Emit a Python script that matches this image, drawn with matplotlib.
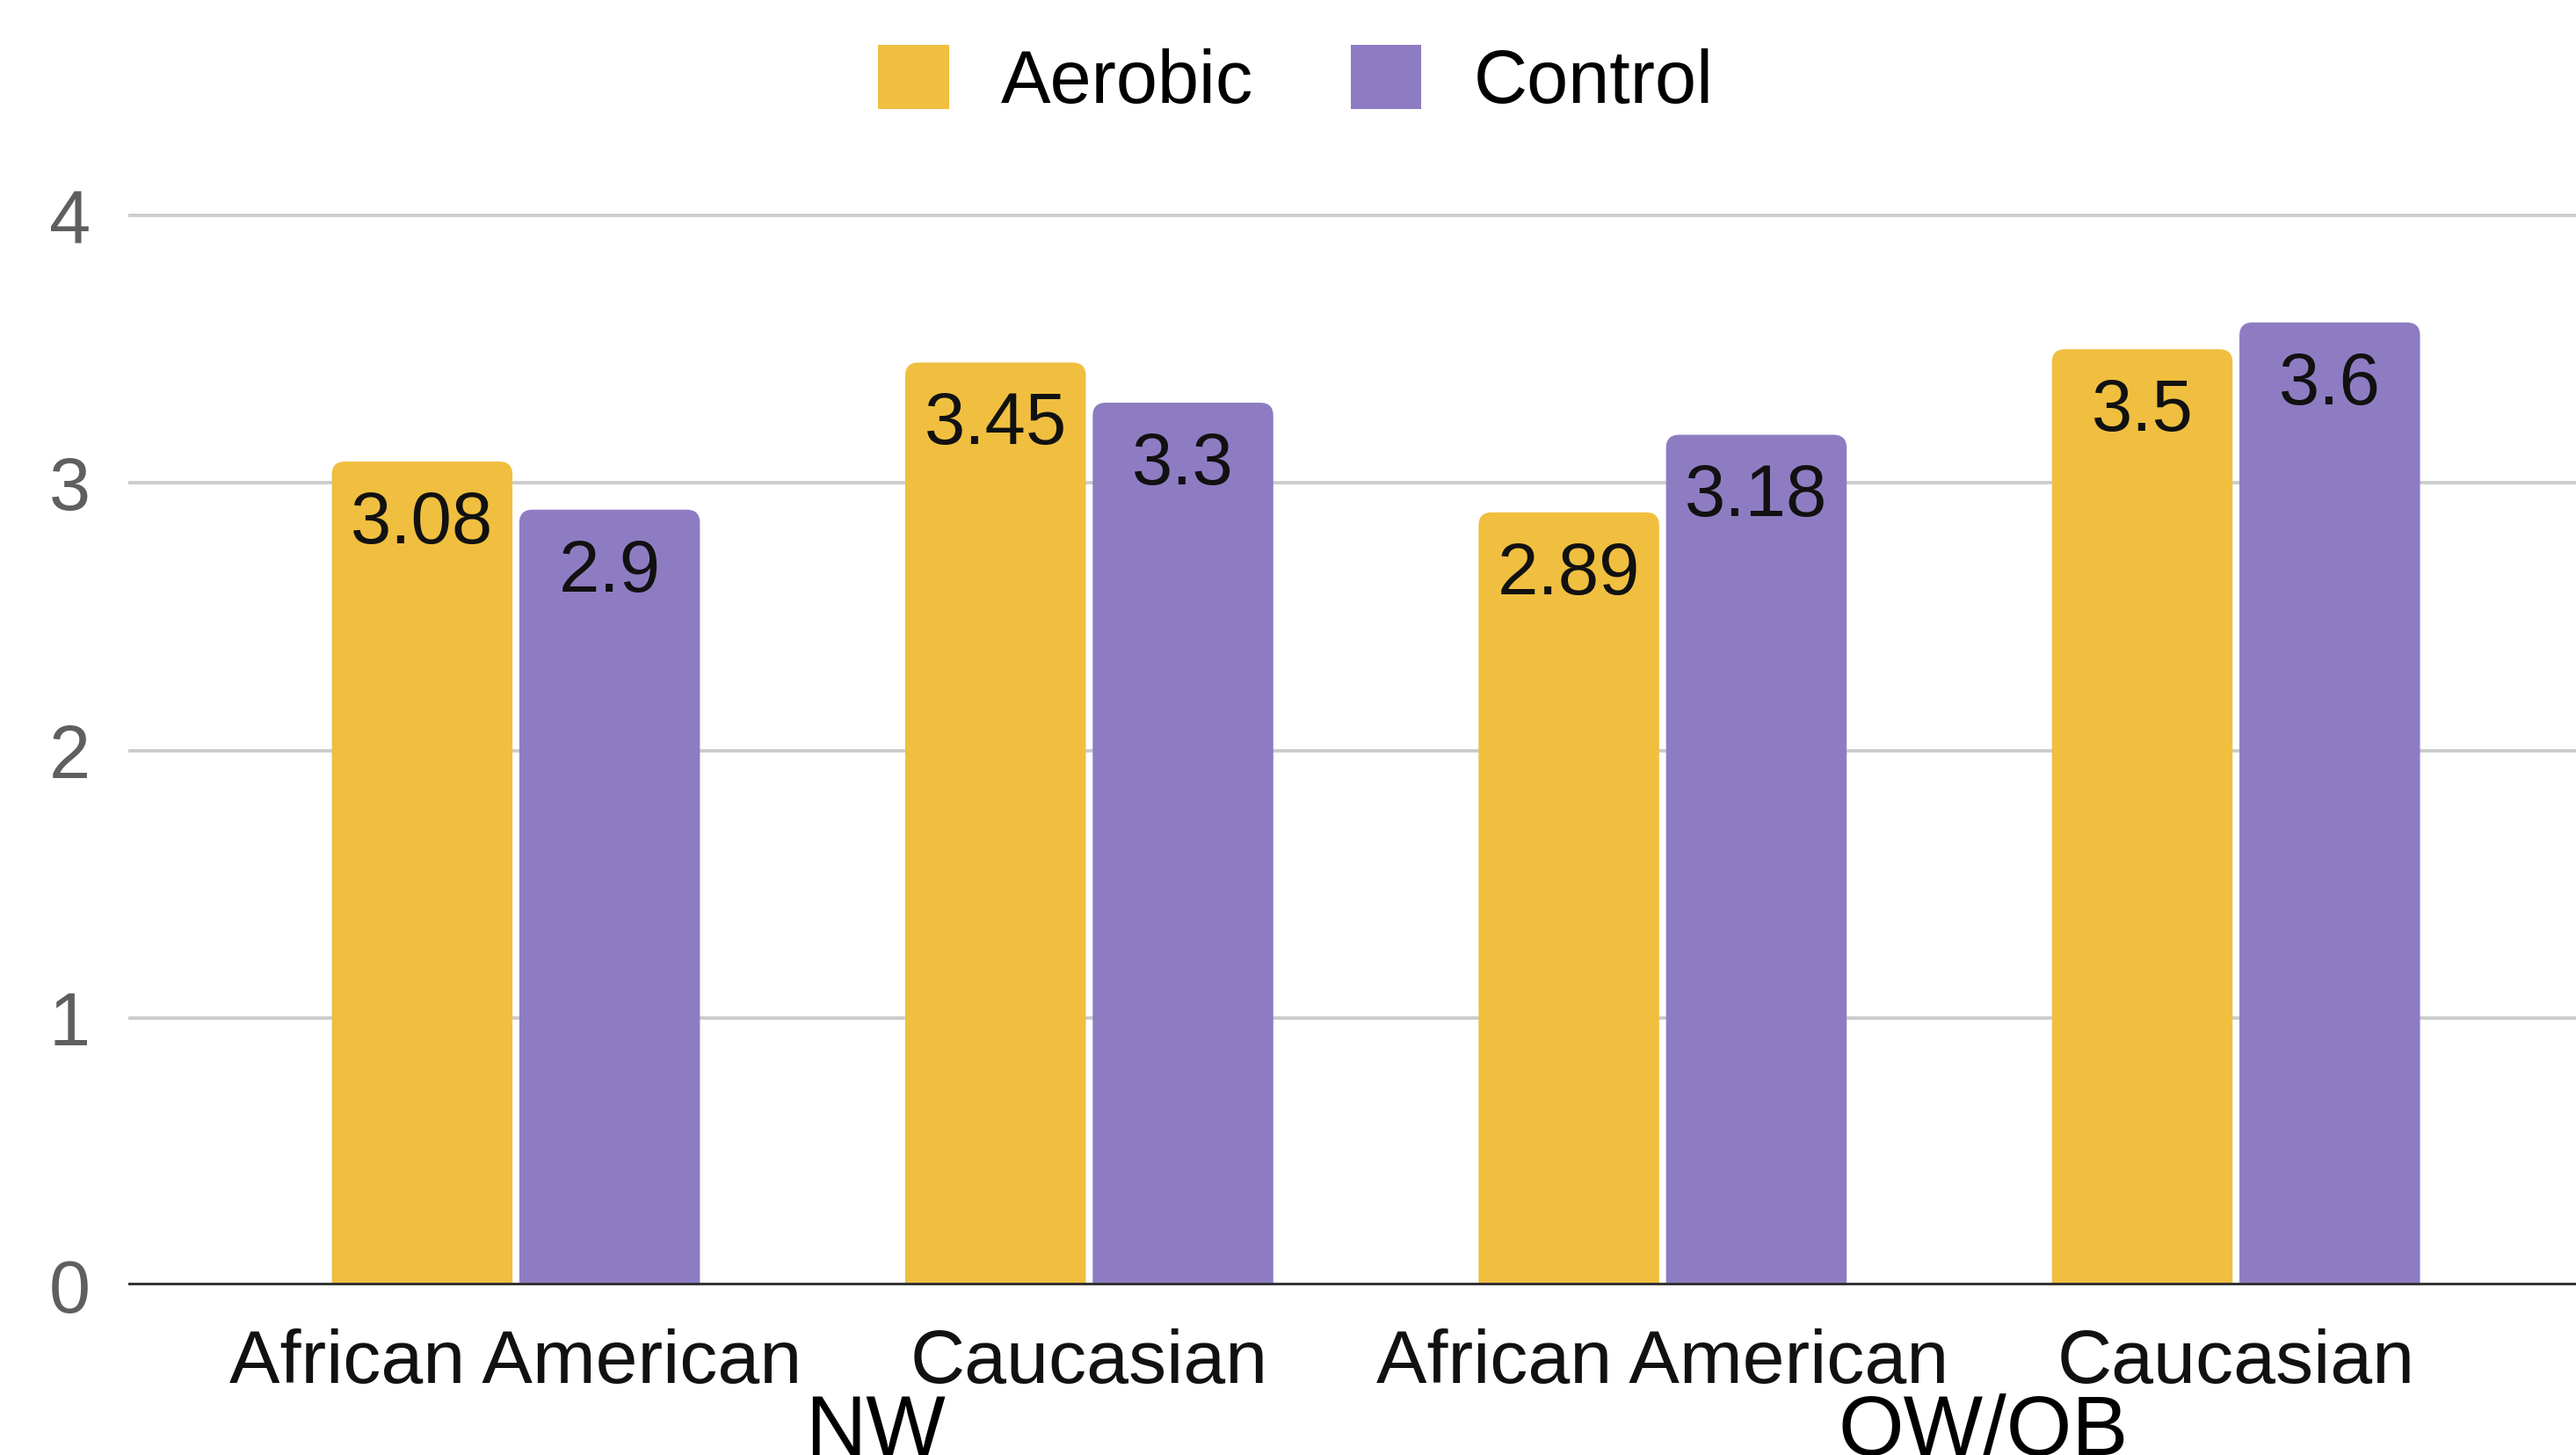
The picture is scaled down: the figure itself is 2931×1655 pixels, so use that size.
import numpy as np
import matplotlib
matplotlib.use("Agg")
import matplotlib.pyplot as plt
from matplotlib.patches import FancyBboxPatch, Patch

plt.rcParams['font.family'] = ['Liberation Sans', 'DejaVu Sans']

# data
races = ["African American", "Caucasian", "African American", "Caucasian"]
weight_groups = ["NW", "OW/OB"]
aerobic = [3.08, 3.45, 2.89, 3.5]
control = [2.9, 3.3, 3.18, 3.6]
yticks = [0, 1, 2, 3, 4]

yellow = '#f0bf40'
purple = '#8e7cc3'

fig = plt.figure(figsize=(29.31, 16.55), dpi=100)
ax = fig.add_axes([0.0498, 0.1166, 0.9502, 0.8556 - 0.1166])
ax.set_xlim(-0.676, 3.593)
ax.set_ylim(0, 4.02)

x = np.arange(len(races))
w = 0.315
gap = 0.006
r = 0.023      # corner radius in x units
aspect = 2.13  # y/x data scale ratio for round corners


def rounded_bar(xc, h, color):
    # start a bit below zero so only the top corners show rounded
    p = FancyBboxPatch((xc - w / 2, -0.1), w, h + 0.1,
                       boxstyle=f"round,pad=0,rounding_size={r}",
                       mutation_aspect=aspect, facecolor=color,
                       edgecolor='none', zorder=3)
    ax.add_patch(p)


for xc, v in zip(x - w / 2 - gap, aerobic):
    rounded_bar(xc, v, yellow)
for xc, v in zip(x + w / 2 + gap, control):
    rounded_bar(xc, v, purple)

# value labels just inside the bar tops
for xs, vals in ((x - w / 2 - gap, aerobic), (x + w / 2 + gap, control)):
    for xc, v in zip(xs, vals):
        ax.annotate(f"{v:g}", (xc, v), xytext=(0, -51), textcoords='offset points',
                    ha='center', va='center', fontsize=60, color='#111111', zorder=4)

ax.set_yticks(yticks)
ax.set_yticklabels([str(t) for t in yticks], color='#5f5f5f', fontsize=61)
ax.set_xticks(x)
ax.set_xticklabels(races, fontsize=62, color='#111111')
ax.tick_params(axis='both', length=0)
ax.tick_params(axis='y', pad=31)
ax.tick_params(axis='x', pad=35)

ax.yaxis.grid(True, color='#cccccc', linewidth=2.8, zorder=0)
ax.set_axisbelow(True)
for s in ax.spines.values():
    s.set_visible(False)
ax.axhline(0, color='#333333', linewidth=5, zorder=5)

# weight group labels under the race labels
for xpos, name in zip([0.627, 2.56], weight_groups):
    ax.text(xpos, -0.405, name, ha='center', va='top', fontsize=69,
            color='black', clip_on=False)

handles = [Patch(facecolor=yellow, label="Aerobic"),
           Patch(facecolor=purple, label="Control")]
fig.legend(handles=handles, loc='center', bbox_to_anchor=(0.503, 0.944), ncol=2,
           frameon=False, fontsize=61, handlelength=0.95, handleheight=0.95,
           handletextpad=0.7, columnspacing=1.3)

fig.savefig("out.png", dpi=100, facecolor='white')
